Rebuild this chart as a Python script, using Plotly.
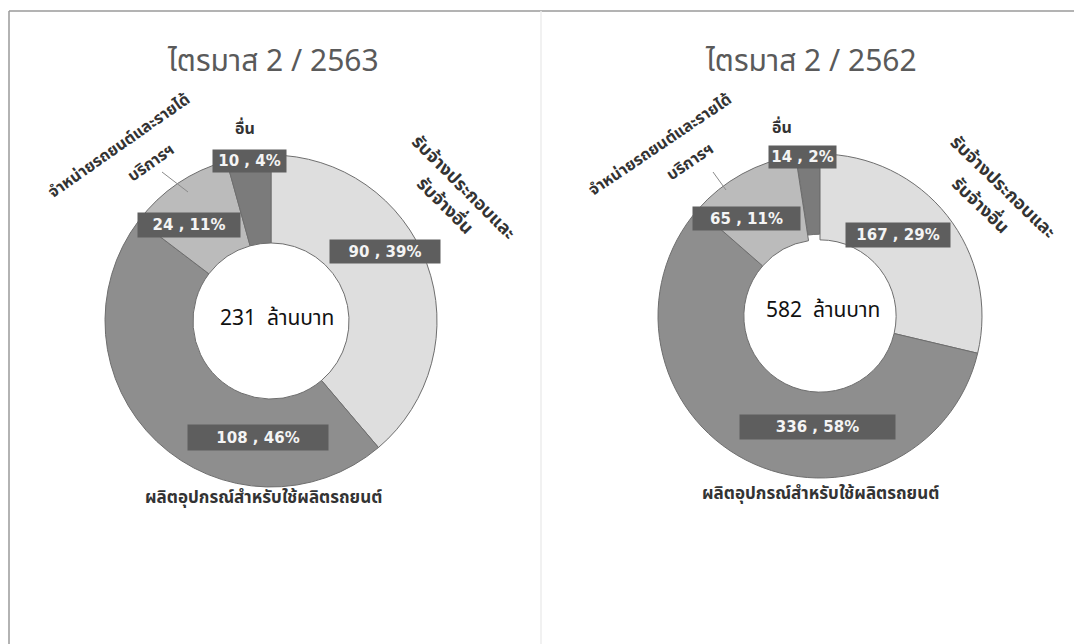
import plotly.graph_objects as go

W, H = 1082, 644
OFF = 8  # page body margin of the html page

categories = ["รับจ้างประกอบและรับจ้างอื่น", "ผลิตอุปกรณ์สำหรับใช้ผลิตรถยนต์",
              "จำหน่ายรถยนต์และรายได้บริการฯ", "อื่น"]
values_2563 = [90, 108, 24, 10]
pct_2563 = [39, 46, 11, 4]
values_2562 = [167, 336, 65, 14]
pct_2562 = [29, 58, 11, 2]
totals = [231, 582]
titles = ["ไตรมาส 2 / 2563", "ไตรมาส 2 / 2562"]
total_unit = "ล้านบาท"

slice_colors = ["#dedede", "#8e8e8e", "#bbbbbb", "#7b7b7b"]
pulls_2563 = [0, 0, 0, 0]
pulls_2562 = [0, 0, 0, 0.035]

THAI = "Tahoma, 'Noto Sans Thai', 'Noto Sans', 'DejaVu Sans', sans-serif"


def px(x, y):
    return (x - OFF) / W, 1 - (y - OFF) / H


fig = go.Figure()

# pie geometry (pixels): center x, center y, diameter
geo = [(271, 321, 332), (820, 316, 324)]
datasets = [(values_2563, pct_2563, pulls_2563), (values_2562, pct_2562, pulls_2562)]

for (cx, cy, d), (vals, pcts, pulls) in zip(geo, datasets):
    d = d * (1 + max(pulls))
    x0, y1 = px(cx - d / 2, cy - d / 2)
    x1, y0 = px(cx + d / 2, cy + d / 2)
    fig.add_trace(go.Pie(
        labels=categories, values=vals, hole=0.47, sort=False,
        direction="clockwise", rotation=0, pull=pulls,
        marker=dict(colors=slice_colors, line=dict(color="#6e6e6e", width=1)),
        textinfo="none", hoverinfo="label+value+percent", showlegend=False,
        domain=dict(x=[x0, x1], y=[y0, y1]),
    ))

annotations = []


def add_text(text, xc, yc, font, **kw):
    x, y = px(xc, yc)
    annotations.append(dict(x=x, y=y, xref="paper", yref="paper", text=text,
                            showarrow=False, xanchor="center", yanchor="middle",
                            font=font, **kw))


# titles
for t, xc in zip(titles, [273, 811]):
    add_text(t, xc, 62, dict(family=THAI, size=30, color="#5a5a5a"))

# centre totals
for tot, (xc, yc) in zip(totals, [(277, 318), (823, 310)]):
    add_text(f"{tot}  {total_unit}", xc, yc, dict(family=THAI, size=21, color="#111111"))

# value label boxes (center x, center y, width, height)
box_pos = [
    [(385, 252, 110, 23), (258, 437, 140, 25), (189, 225, 102, 24), (249, 161, 73, 22)],
    [(898, 235, 104, 24), (817, 427, 155, 24), (746, 218, 107, 23), (802, 157, 67, 22)],
]
for (vals, pcts, _), poss in zip(datasets, box_pos):
    for v, p, (xc, yc, bw, bh) in zip(vals, pcts, poss):
        add_text(f"<b>{v} , {p}%</b>", xc, yc,
                 dict(family="Tahoma, 'DejaVu Sans', sans-serif", size=15, color="#f4f4f4"),
                 bgcolor="#5e5e5e", width=bw, height=bh, borderpad=0)

# category labels (text, x, y, angle, size)
cat_labels = [
    (categories[3], 245, 129, 0, 16),
    (categories[3], 782, 128, 0, 16),
    (categories[1], 263, 498, 0, 17),
    (categories[1], 820, 494, 0, 17),
    ("จำหน่ายรถยนต์และรายได้", 119, 146, -35, 16),
    ("บริการฯ", 151, 163, -35, 16),
    ("จำหน่ายรถยนต์และรายได้", 660, 145, -34, 16),
    ("บริการฯ", 690, 162, -34, 16),
    ("รับจ้างประกอบและ", 463, 188, 45, 18),
    ("รับจ้างอื่น", 444, 206, 45, 18),
    ("รับจ้างประกอบและ", 1003, 187, 44, 18),
    ("รับจ้างอื่น", 980, 205, 44, 18),
]
for text, xc, yc, ang, sz in cat_labels:
    add_text(f"<b>{text}</b>", xc, yc, dict(family=THAI, size=sz, color="#333333"),
             textangle=ang)

shapes = []


def add_line(x0, y0, x1, y1, color, width):
    a0, b0 = px(x0, y0)
    a1, b1 = px(x1, y1)
    shapes.append(dict(type="line", xref="paper", yref="paper", x0=a0, y0=b0, x1=a1, y1=b1,
                       line=dict(color=color, width=width)))


# leader lines
for (x0, y0, x1, y1) in [(162, 172, 188, 192), (713, 172, 726, 190)]:
    add_line(x0, y0, x1, y1, "#8a8a8a", 1)
# frame lines
add_line(9, 11, 1090, 11, "#9a9a9a", 1.5)
add_line(9, 11, 9, 660, "#9a9a9a", 1.5)
add_line(541, 11, 541, 660, "#ececec", 1.5)

fig.update_layout(
    width=W, height=H, margin=dict(l=0, r=0, t=0, b=0),
    paper_bgcolor="white", plot_bgcolor="white",
    annotations=annotations, shapes=shapes,
)

fig.write_html("out.html")
